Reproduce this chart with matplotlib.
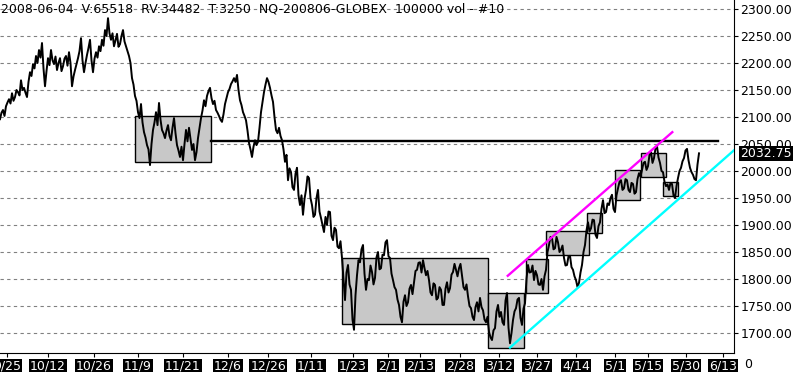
import matplotlib
matplotlib.use("Agg")
import matplotlib.pyplot as plt
import matplotlib.patches as patches
import matplotlib.transforms as mtransforms
import numpy as np

# NQ-200806 成交量K线（100000 vol）价格，按样本顺序（约 1.5 像素一个样本）
price = [
    2096, 2108, 2113, 2102, 2120, 2127, 2133, 2125, 2144, 2130,
    2137, 2150, 2146, 2140, 2168, 2150, 2154, 2145, 2137, 2165,
    2183, 2176, 2198, 2190, 2213, 2200, 2224, 2210, 2237, 2190,
    2157, 2185, 2209, 2196, 2224, 2205, 2198, 2212, 2187, 2200,
    2209, 2185, 2194, 2208, 2213, 2195, 2220, 2200, 2157, 2175,
    2187, 2198, 2209, 2222, 2246, 2205, 2183, 2200, 2215, 2228,
    2243, 2205, 2183, 2208, 2220, 2210, 2231, 2222, 2243, 2232,
    2261, 2250, 2283, 2255, 2243, 2255, 2231, 2242, 2254, 2230,
    2235, 2250, 2261, 2240, 2231, 2222, 2213, 2200, 2172, 2160,
    2139, 2130, 2109, 2098, 2124, 2090, 2072, 2062, 2048, 2040,
    2011, 2050, 2076, 2090, 2109, 2085, 2126, 2095, 2076, 2070,
    2061, 2075, 2085, 2065, 2057, 2080, 2098, 2070, 2048, 2038,
    2026, 2045, 2020, 2050, 2076, 2055, 2080, 2060, 2039, 2050,
    2020, 2035, 2061, 2080, 2098, 2112, 2131, 2120, 2139, 2148,
    2154, 2135, 2124, 2130, 2113, 2108, 2102, 2095, 2091, 2105,
    2124, 2135, 2146, 2152, 2161, 2166, 2172, 2165, 2178, 2150,
    2131, 2122, 2109, 2102, 2094, 2075, 2052, 2040, 2026, 2045,
    2057, 2048, 2054, 2080, 2109, 2128, 2146, 2160, 2172, 2165,
    2154, 2140, 2128, 2100, 2076, 2070, 2080, 2065, 2057, 2040,
    2017, 2030, 1983, 2005, 1998, 1970, 1965, 1995, 2006, 1955,
    1937, 1955, 1919, 1948, 1965, 1990, 1987, 1950, 1937, 1915,
    1919, 1950, 1965, 1925, 1913, 1900, 1887, 1915, 1900, 1925,
    1924, 1880, 1872, 1895, 1891, 1860, 1857, 1870, 1839, 1800,
    1761, 1812, 1826, 1790, 1780, 1725, 1706, 1770, 1807, 1835,
    1831, 1855, 1863, 1810, 1780, 1800, 1798, 1825, 1813, 1790,
    1802, 1840, 1850, 1818, 1820, 1845, 1844, 1868, 1872, 1842,
    1839, 1810, 1798, 1785, 1780, 1762, 1752, 1730, 1720, 1758,
    1770, 1750, 1757, 1782, 1789, 1772, 1794, 1815, 1817, 1830,
    1831, 1812, 1835, 1820, 1807, 1815, 1798, 1775, 1770, 1792,
    1789, 1762, 1765, 1785, 1780, 1752, 1752, 1782, 1794, 1775,
    1783, 1808, 1813, 1828, 1817, 1805, 1820, 1828, 1806, 1785,
    1780, 1790, 1768, 1750, 1746, 1730, 1724, 1748, 1757, 1740,
    1765, 1748, 1742, 1725, 1720, 1730, 1702, 1692, 1687, 1705,
    1709, 1740, 1752, 1730, 1739, 1720, 1715, 1760, 1774, 1710,
    1681, 1700, 1724, 1740, 1746, 1762, 1765, 1728, 1715, 1745,
    1755, 1800, 1826, 1812, 1813, 1825, 1798, 1815, 1807, 1790,
    1789, 1800, 1780, 1805, 1817, 1850, 1863, 1878, 1876, 1855,
    1857, 1878, 1868, 1850, 1854, 1862, 1839, 1825, 1826, 1842,
    1843, 1822, 1817, 1805, 1798, 1785, 1793, 1812, 1826, 1850,
    1863, 1890, 1905, 1888, 1894, 1910, 1909, 1882, 1876, 1898,
    1905, 1930, 1946, 1922, 1924, 1940, 1937, 1950, 1956, 1930,
    1924, 1955, 1968, 1980, 1983, 1965, 1968, 1985, 1983, 1965,
    1961, 1978, 1976, 1958, 1961, 1985, 1996, 1990, 2002, 2015,
    2017, 2002, 2009, 2030, 2035, 2015, 2024, 2042, 2046, 2025,
    2015, 2000, 1998, 1980, 1972, 1975, 1965, 1978, 1976, 1955,
    1950, 1972, 1987, 2000, 2006, 2018, 2024, 2038, 2041, 2020,
    2006, 1998, 1993, 1985, 1983, 2012, 2032.75,
]

# 盘整区间（灰色方框）：起止样本、下沿、上沿
box_start = [90.0, 227.8, 325.5, 350.5, 364.2, 391.5, 410.2, 427.5, 442.2]
box_end = [140.5, 325.5, 349.5, 365.1, 392.9, 401.1, 426.9, 443.8, 452.2]
box_low = [2016, 1717, 1672, 1774, 1844, 1885, 1946, 1989, 1954]
box_high = [2102, 1838, 1774, 1837, 1888, 1922, 2001, 2033, 1979]

# 水平阻力线
resist_x = [140.7, 478.7]
resist_y = [2056, 2056]

# 上升通道
upper_x = [338.5, 448.2]
upper_y = [1806, 2072]
lower_x = [340.0, 492.0]
lower_y = [1673, 2045]

# x 轴日期标签
tick_pos = [4.7, 32, 62.7, 92, 122, 152, 178.7, 207.3, 235.3, 258.7,
            280, 306.7, 332.7, 358, 384, 410, 432, 457.3, 482]
tick_lab = ['9/25', '10/12', '10/26', '11/9', '11/21', '12/6', '12/26', '1/11',
            '1/23', '2/1', '2/13', '2/28', '3/12', '3/27', '4/14', '5/1',
            '5/15', '5/30', '6/13']

y_ticks = list(range(1700, 2301, 50))
last_price = 2032.75
header = '2008-06-04  V:65518  RV:34482  T:3250  NQ-200806-GLOBEX  100000 vol - #10'

plt.rcParams['font.family'] = ['DejaVu Sans']
plt.rcParams['font.size'] = 9

fig = plt.figure(figsize=(7.97, 3.72), dpi=100)
ax = fig.add_axes([0.0, 19 / 372, 734 / 797, 353 / 372])

# 网格
for v in y_ticks:
    ax.axhline(v, color='#808080', lw=0.8, dashes=(3, 3), zorder=0)

# 方框
for x0, x1, lo, hi in zip(box_start, box_end, box_low, box_high):
    ax.add_patch(patches.Rectangle((x0, lo), x1 - x0, hi - lo,
                                   facecolor='#c8c8c8', edgecolor='black',
                                   lw=1.0, zorder=1))

ax.plot(resist_x, resist_y, color='black', lw=1.7, zorder=2)
ax.plot(np.arange(len(price)), price, color='black', lw=1.4, zorder=3)
ax.plot(upper_x, upper_y, color='#ff00ff', lw=1.7, zorder=4)
ax.plot(lower_x, lower_y, color='#00ffff', lw=1.7, zorder=4)

ax.set_xlim(0, 734 / 1.5)
ax.set_ylim(1663, 2316.7)

ax.spines['top'].set_visible(False)
ax.spines['left'].set_visible(False)

ax.yaxis.tick_right()
ax.set_yticks(y_ticks)
ax.set_yticklabels(['%.2f' % v for v in y_ticks])
ax.tick_params(axis='y', direction='out', length=3, pad=1.5, labelsize=9)

ax.set_xticks(tick_pos)
ax.set_xticklabels(tick_lab)
ax.tick_params(axis='x', direction='out', length=3, pad=2, labelsize=9,
               labelcolor='white')
for lbl in ax.get_xticklabels():
    lbl.set_bbox(dict(facecolor='black', edgecolor='none', pad=0.6))

# 最新价标签
trans = mtransforms.blended_transform_factory(ax.transAxes, ax.transData)
ax.text(1.0 + 6 / 734, last_price, '%.2f' % last_price, transform=trans,
        color='white', va='center', ha='left', fontsize=9,
        bbox=dict(facecolor='black', edgecolor='none', pad=0.6))

fig.text(1 / 797, 1 - 2 / 372, header, ha='left', va='top', fontsize=9)
fig.text(744 / 797, 8 / 372, '0', ha='left', va='center', fontsize=9)

fig.savefig('out.png', dpi=100)
